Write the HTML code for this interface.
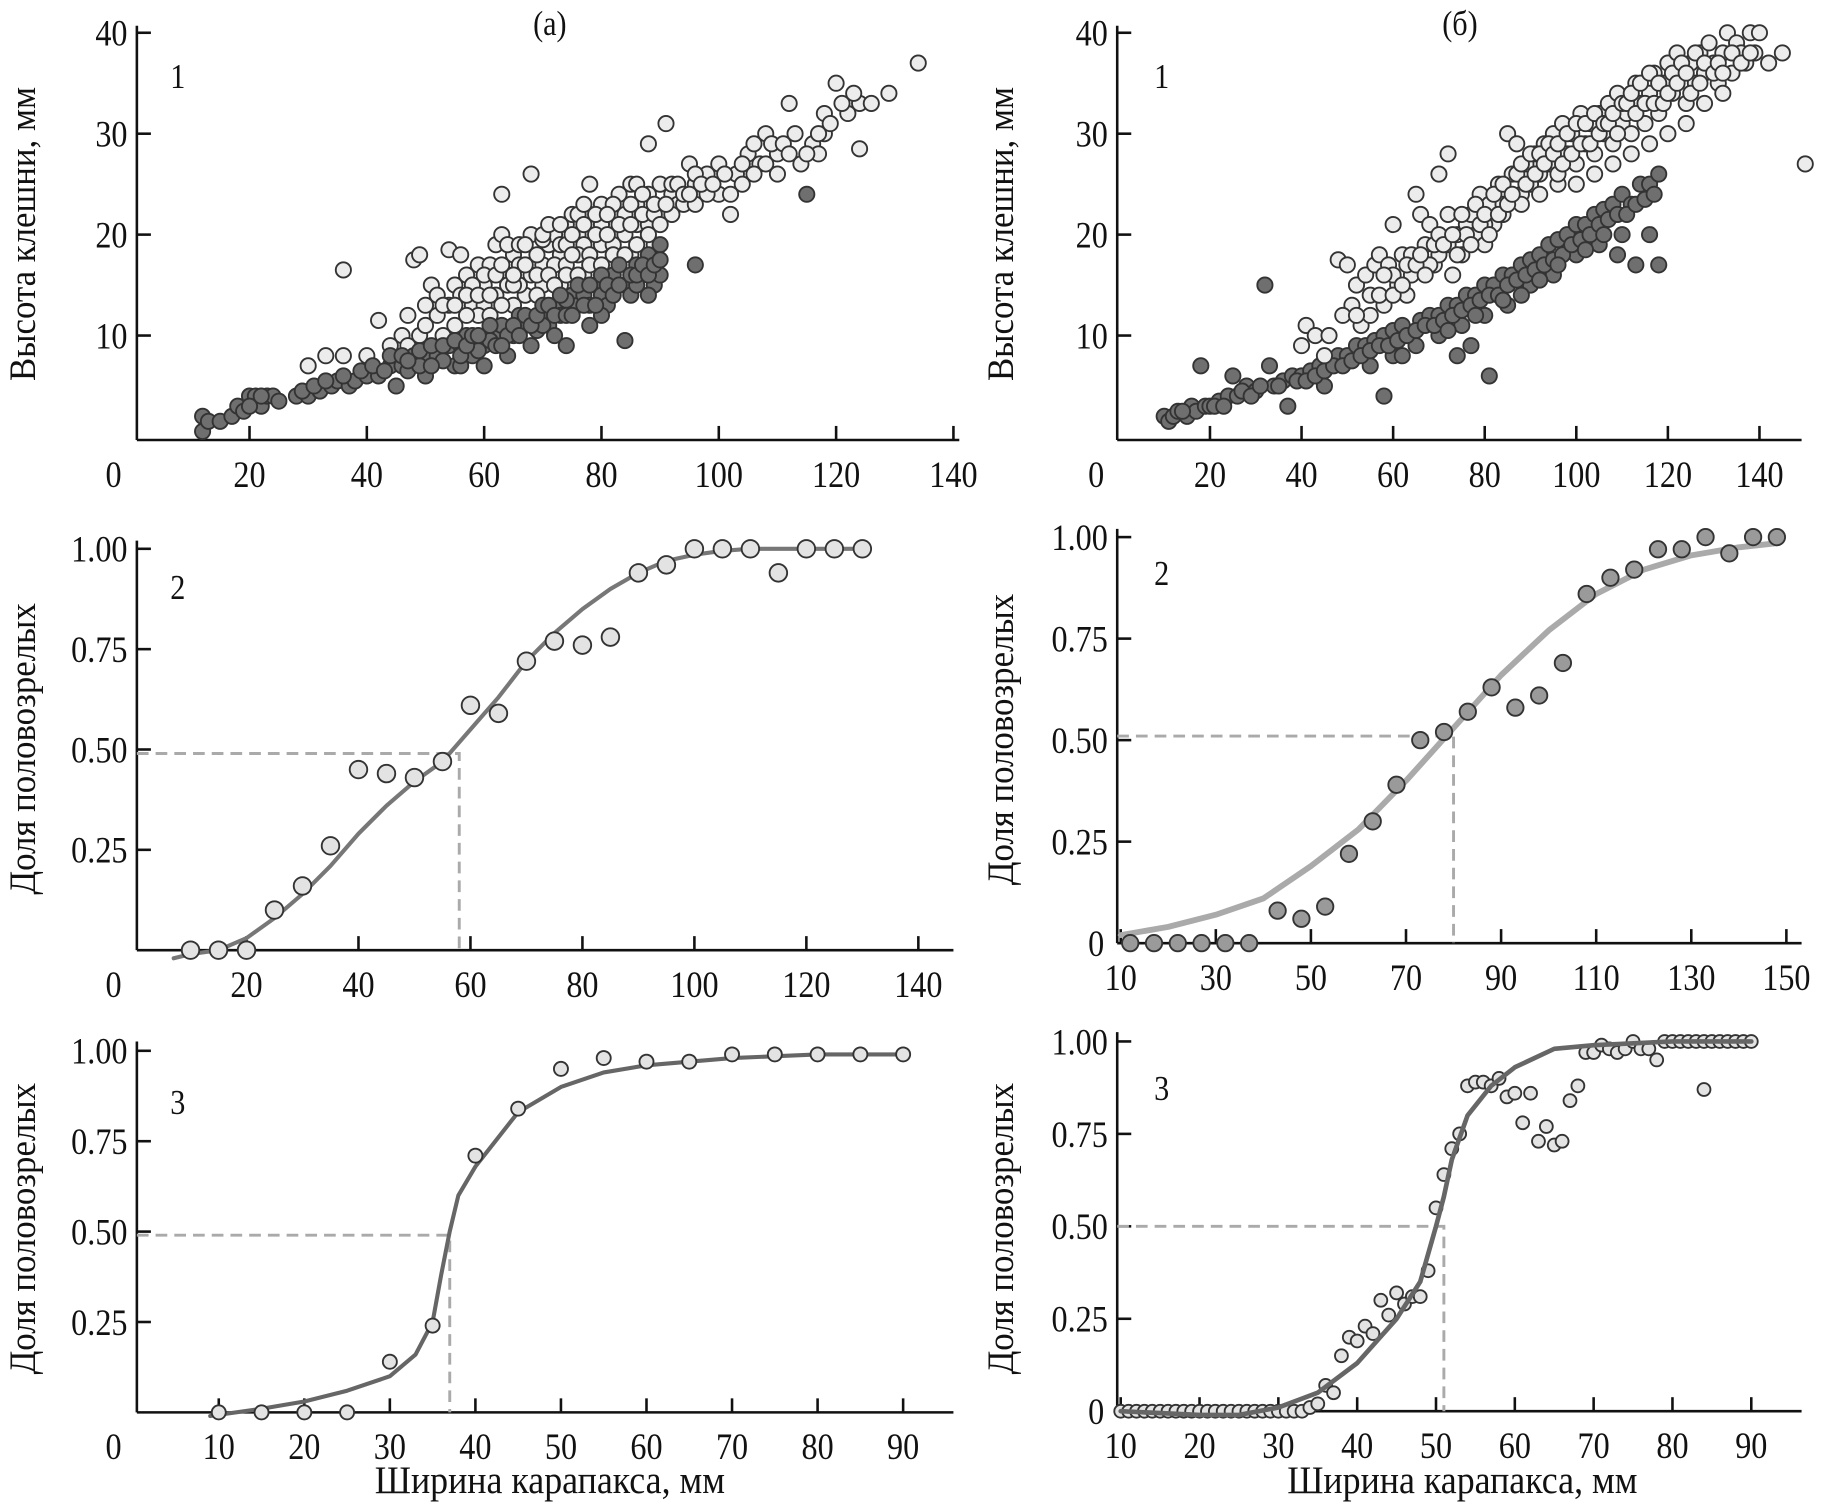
<!DOCTYPE html>
<html><head><meta charset="utf-8"><style>
html,body{margin:0;padding:0;background:#fff}
svg{display:block}
text{font-family:"Liberation Serif",serif;fill:#111}
</style></head><body>
<svg id="fig" width="1832" height="1506" viewBox="0 0 1566 1287" preserveAspectRatio="none" xmlns="http://www.w3.org/2000/svg"></svg>
<script>
// ---- data: panel a1 (scatter) ----
const a1Light=[30,7,33,8,36,8,36,16.5,40,8,42,11.5,44,9,46,10,47,12,48,17.5,49,18,50,13,51,15,52,14,54,18.5,55,15,56,18,57,16,58,13,59,17,60,15,61,17,62,19,63,24,63,20,64,16,65,18,66,17,67,14,68,20,68,26,70,17,71,19,72,20,73,18,74,21,75,22,76,20,77,19,78,25,78,22,80,21,80,23,82,20,83,24,84,22,85,25,86,23,87,21,88,29,88,24,90,25,91,31,92,24,93,23,95,27,96,25,98,26,100,27,100,24,102,22,103,26,105,28,106,29,107,27,108,30,110,28,110,26,112,33,113,30,114,27,116,29,117,28,118,32,118,30,120,35,122,32,124,28.5,124,33,126,33,129,34,134,37,52,12,54,13,56,14,58,15,60,13,62,14,64,15,66,15,68,16,70,15,72,17,74,17,76,18,78,18,80,19,82,19,84,20,86,21,88,21,90,22,92,22,94,23,96,23,98,24,55,11,59,12,61,12,65,13,69,14,73,15,77,16,81,17,85,18,89,19,64,19,70,19.5,76,22,82,23,86,25,104,25,108,27,
 47,9,49,10,50,11,53,10,53,13,55,13,57,12,57,14,59,14,60,16,61,14,62,16,63,13,63,17,65,15,65,16,66,19,67,17,67,19,69,16,69,18,70,20,71,16,71,21,72,15,73,19,73,21,74,16,74,19,75,18,75,20,76,16,77,21,77,23,78,17,79,20,79,22,80,17,81,20,81,22,82,18,83,21,84,18,85,21,85,23,86,19,87,22,87,24,88,20,89,22,89,23,90,21,91,23,92,25,93,25,94,24,95,24,96,26,97,25,99,25,101,26,102,24,104,27,106,26,109,29,111,29,112,28,115,28,117,30,119,31,121,33,123,34];
const a1Dark=[12,2,12,0.5,13,1.5,15,1.5,17,2,18,3,19,2.5,20,4,21,4,22,3,23,4,24,4,28,4,30,4,32,4.5,34,5,35,5.5,37,5,38,5.5,40,6,42,6,44,7,45,5,46,7,48,8,50,8,50,6,52,8,54,9,55,7,56,9,57,10,58,8,60,9,60,7,62,10,63,11,64,8,65,10,66,12,67,11,68,9,70,12,71,11,72,13,73,12,74,9,75,14,76,13,77,14,78,11,79,15,80,14,81,13,82,16,83,17,84,15,84,9.5,85,14,86,17,87,16,88,18,89,15,90,19,96,17,115,24,53,7.5,59,8.5,61,9.5,69,10.5,72,10,78,13,80,12,86,15,88,14,90,16,47,6.5,49,7,56,7,64,10,70,11,74,13.5,
 20,3,22,4,25,3.5,29,4.5,31,5,33,5.5,36,6,39,6.5,41,7,43,6.5,44,8,46,8,47,7.5,49,8.5,51,7,51,9,53,9,55,9.5,56,8,57,9,58,10,59,10,61,11,62,9,63,9,65,11,66,10,67,12,68,11,69,12,70,13,71,13,72,12,73,14,74,12,75,12,76,15,77,13,78,15,79,13,80,16,81,15,82,14,83,15,85,16,86,16,87,17,88,16,89,17,90,17.5];
// ---- data: panel б1 (scatter) ----
const b1Light=[40,9,41,11,43,10,45,8,48,17.5,50,17,51,13,52,15,53,11,54,16,55,12,56,17,57,18,58,13,59,17,60,21,61,15,62,18,63,14,64,16,65,24,66,22,67,19,68,21,69,17,70,26,70,18,72,22,72,28,73,16,74,20,75,18,76,21,77,22,78,20,79,24,80,19,81,23,82,21,83,25,84,22,85,30,86,26,87,29,88,24,89,27,90,25,91,28,92,26,93,29,94,27,95,30,96,25,97,31,98,28,99,30,100,27,101,32,102,29,103,31,104,28,105,32,106,30,107,33,108,29,109,34,110,31,111,32,112,30,113,35,114,33,115,31,116,34,117,36,118,32,119,35,120,37,121,34,122,38,123,36,124,33,125,37,126,35,127,38,128,36,129,39,130,37,131,35,132,38,133,40,134,36,135,39,136,38,137,37,138,40,139,38,140,40,142,37,145,38,150,27,60,16,64,18,68,17,72,19,76,20,80,21,84,23,88,23,92,24,96,26,100,25,104,26,108,27,112,28,116,29,120,30,124,31,128,33,132,34,
 46,10,49,12,52,12,55,14,57,14,58,16,60,14,62,15,63,17,65,17,66,18,67,16,69,19,70,20,71,19,73,20,74,18,75,22,77,19,78,23,79,21,80,22,81,20,82,24,83,22,84,25,85,23,86,24,87,26,88,27,89,25,90,28,91,26,92,28,93,27,94,29,95,28,96,29,97,27,98,30,99,28,100,31,101,29,102,31,103,29,104,32,105,30,106,31,107,31,108,32,109,30,110,33,111,33,112,34,113,32,114,35,115,33,116,36,117,33,118,35,119,33,120,34,121,36,122,35,123,37,124,36,125,34,126,38,127,35,128,37,130,36,131,37,132,36,134,38,136,37,138,38];
const b1Dark=[10,2,11,1.5,12,2,13,2.5,15,2,16,3,17,2.5,18,7,19,3,20,3,22,3.5,24,4,25,6,26,4,28,5,30,4.5,32,15,33,7,34,5,36,5.5,37,3,38,6,40,6,42,6.5,44,7,46,7.5,48,8,50,8,52,9,54,9,56,9.5,58,4,58,10,60,10.5,62,11,64,10,66,11.5,68,12,70,12,72,13,74,8,74,13,76,14,77,9,78,14,80,15,81,6,82,15,84,16,86,16,88,17,90,17.5,92,18,94,19,96,19.5,98,20,100,21,102,21,104,22,106,22.5,108,23,109,18,110,24,112,23,113,17,114,25,116,25,116,20,118,17,118,26,60,8,65,9,70,10,75,11,80,12,85,13,90,15,95,16,100,18,105,19,110,20,45,5,55,7,62,8,
 14,2.5,21,3,23,3,27,4.5,29,4,31,5,35,5,39,5.5,41,5.5,43,6,45,6.5,47,7,49,7,51,7.5,53,8,55,8.5,57,9,59,9,61,9.5,63,10,65,10.5,67,11,69,11,71,11.5,73,12,75,12.5,77,13,79,13.5,81,14,83,14,85,15,87,15.5,89,16,91,16.5,93,17,95,17.5,97,18,99,19,101,19.5,103,20,105,21,107,21.5,109,22,111,22,113,23,115,23.5,117,24,72,10.5,78,12,84,13.5,88,14,92,15.5,96,17,102,18.5,106,20];
// ---- data: panels a2, б2 (proportion) ----
const a2X=[10,15,20,25,30,35,40,45,50,55,60,65,70,75,80,85,90,95,100,105,110,115,120,125,130];
const a2Y=[0,0,0,0.1,0.16,0.26,0.45,0.44,0.43,0.47,0.61,0.59,0.72,0.77,0.76,0.78,0.94,0.96,1,1,1,0.94,1,1,1];
const a2CurveX=[7,10,15,20,25,30,35,40,45,50,55,60,65,70,75,80,85,90,95,100,105,110,120,130];
const a2CurveY=[-0.02,-0.01,0,0.03,0.08,0.14,0.21,0.29,0.36,0.42,0.47,0.55,0.63,0.72,0.79,0.85,0.9,0.94,0.97,0.985,0.995,1,1,1];
const a2Half=[58,0.49];
const b2X=[12,17,22,27,32,37,43,48,53,58,63,68,73,78,83,88,93,98,103,108,113,118,123,128,133,138,143,148];
const b2Y=[0,0,0,0,0,0,0.08,0.06,0.09,0.22,0.3,0.39,0.5,0.52,0.57,0.63,0.58,0.61,0.69,0.86,0.9,0.92,0.97,0.97,1,0.96,1,1];
const b2CurveX=[10,20,30,40,50,60,70,80,90,100,110,120,130,140,148];
const b2CurveY=[0.02,0.04,0.07,0.11,0.19,0.28,0.4,0.53,0.66,0.77,0.86,0.92,0.955,0.975,0.985];
const b2Half=[80,0.51];
// ---- data: panels a3, б3 ----
const a3X=[10,15,20,25,30,35,40,45,50,55,60,65,70,75,80,85,90];
const a3Y=[0,0,0,0,0.14,0.24,0.71,0.84,0.95,0.98,0.97,0.97,0.99,0.99,0.99,0.99,0.99];
const a3CurveX=[9,15,20,25,30,33,35,36,37,38,40,45,50,55,60,70,80,90];
const a3CurveY=[-0.01,0.01,0.03,0.06,0.1,0.16,0.25,0.38,0.5,0.6,0.68,0.83,0.9,0.94,0.96,0.98,0.99,0.99];
const a3Half=[37,0.49];
const b3X=[10,11,12,13,14,15,16,17,18,19,20,21,22,23,24,25,26,27,28,29,30,31,32,33,34,35,36,37,38,39,40,41,42,43,44,45,46,47,48,49,50,51,52,53,54,55,56,57,58,59,60,61,62,63,64,65,66,67,68,69,70,71,72,73,74,75,76,77,78,79,80,81,82,83,84,84,85,86,87,88,89,90];
const b3Y=[0,0,0,0,0,0,0,0,0,0,0,0,0,0,0,0,0,0,0,0,0,0,0,0,0.01,0.02,0.07,0.05,0.15,0.2,0.19,0.23,0.21,0.3,0.26,0.32,0.29,0.31,0.31,0.38,0.55,0.64,0.71,0.75,0.88,0.89,0.89,0.88,0.9,0.85,0.86,0.78,0.86,0.73,0.77,0.72,0.73,0.84,0.88,0.97,0.97,0.99,0.98,0.97,0.98,1,0.98,0.98,0.95,1,1,1,1,1,1,0.87,1,1,1,1,1,1];
const b3CurveX=[10,20,25,30,35,40,45,48,50,51,52,54,57,60,65,70,80,90];
const b3CurveY=[0,-0.01,-0.01,0.01,0.05,0.13,0.25,0.35,0.5,0.58,0.68,0.8,0.88,0.93,0.98,0.99,1,1];
const b3Half=[51,0.5];
// ---- tick labels ----
const a1XTicks=[20,40,60,80,100,120,140];
const b1XTicks=[20,40,60,80,100,120,140];
const scatYTicks=[10,20,30,40];
const propYTicks=[0.25,0.5,0.75,1];
const propYLabels=["0.25","0.50","0.75","1.00"];
const a2XTicks=[20,40,60,80,100,120,140];
const b2XTicks=[10,30,50,70,90,110,130,150];
const a3XTicks=[10,20,30,40,50,60,70,80,90];
const b3XTicks=[10,20,30,40,50,60,70,80,90];

const NS="http://www.w3.org/2000/svg";
const svg=document.getElementById('fig');
function mk(tag,attrs,parent,name){const e=document.createElementNS(NS,tag);for(const k in attrs)e.setAttribute(k,attrs[k]);


(parent||svg).appendChild(e);return e;}
function txt(s,x,y,size,anchor,parent,name,sx){const t=mk('text',{x:0,y:0,'font-size':size,'text-anchor':anchor||'middle',transform:'translate('+x+','+y+') scale('+(sx||0.86)+',1)'},parent,name);t.textContent=s;return t;}
function lin(x0,x1,y0,y1){return v=>y0+(v-x0)*(y1-y0)/(x1-x0);}

function panel(o){
  const g=mk('g',{},svg,o.name);
  const sx=lin(o.xd[0],o.xd[1],o.xp[0],o.xp[1]);
  const sy=lin(o.yd[0],o.yd[1],o.yp[0],o.yp[1]);
  const ax=mk('g',{stroke:'#111','stroke-width':2.2,fill:'none'},g,'axes');
  mk('line',{x1:o.yAxisX,y1:o.yTop,x2:o.yAxisX,y2:o.axisY},ax,'y-axis');
  mk('line',{x1:o.yAxisX,y1:o.axisY,x2:o.xEnd,y2:o.axisY},ax,'x-axis');
  o.yt.forEach((v,i)=>{const y=sy(v);mk('line',{x1:o.yAxisX,y1:y,x2:o.yAxisX+12,y2:y},ax,'y-tick');
    txt(o.ytl?o.ytl[i]:String(v),o.yAxisX-8,y+11,32,'end',g,'y-tick-label');});
  o.xt.forEach(v=>{const x=sx(v);mk('line',{x1:x,y1:o.axisY,x2:x,y2:o.axisY-12},ax,'x-tick');
    txt(String(v),x,o.axisY+40,32,'middle',g,'x-tick-label');});
  txt('0',o.zeroX||o.yAxisX-20,o.zeroY,32,'middle',g,'origin-label');
  txt(o.num,o.numX,o.numY,30,'middle',g,'panel-number');
  const yl=mk('text',{x:0,y:0,'font-size':32,'text-anchor':'middle',transform:'translate('+o.ylx+','+o.yly+') rotate(-90) scale(0.93,1)'},g,'y-axis-title');
  yl.textContent=o.ylabel;
  return {g,sx,sy};
}
function scatter(p,arr,fill,r,name){const gg=mk('g',{},p.g,name);
  for(let i=0;i<arr.length;i+=2){mk('circle',{cx:p.sx(arr[i]),cy:p.sy(arr[i+1]),r:r,fill:fill,stroke:'#333','stroke-width':1.6},gg,'point');}}
function dots(p,X,Y,fill,r,name){const gg=mk('g',{},p.g,name);
  X.forEach((x,i)=>{mk('circle',{cx:p.sx(x),cy:p.sy(Y[i]),r:r,fill:fill,stroke:'#333','stroke-width':1.6},gg,'point');});}
function curve(p,X,Y,color,w,name){const d=X.map((x,i)=>(i?'L':'M')+p.sx(x).toFixed(1)+','+p.sy(Y[i]).toFixed(1)).join(' ');
  mk('path',{d:d,fill:'none',stroke:color,'stroke-width':w,'stroke-linejoin':'round','stroke-linecap':'round'},p.g,name);}
function half(p,h,x0,axisY){const x=p.sx(h[0]),y=p.sy(h[1]);
  mk('path',{d:'M'+x0+','+y+' L'+x+','+y+' L'+x+','+axisY,fill:'none',stroke:'#aaa','stroke-width':2.5,'stroke-dasharray':'10,6'},p.g,'half-maturity-guide');}

// a1
let p=panel({name:'panel-a1',xd:[0,140],xp:[113,815],yd:[0,40],yp:[373,28],yAxisX:117,yTop:22,axisY:376,xEnd:820,
  yt:scatYTicks,xt:a1XTicks,zeroY:416,num:'1',numX:152,numY:75,ylabel:'Высота клешни, мм',ylx:30,yly:200});
scatter(p,a1Light,'#ececec',6.5,'immature-points');scatter(p,a1Dark,'#6f6f6f',6.5,'mature-points');
txt('(a)',470,30,30,'middle',p.g,'column-title-a');
// б1
p=panel({name:'panel-b1',xd:[0,140],xp:[956,1504],yd:[0,40],yp:[373,28],yAxisX:955,yTop:22,axisY:376,xEnd:1540,
  yt:scatYTicks,xt:b1XTicks,zeroY:416,zeroX:937,num:'1',numX:993,numY:75,ylabel:'Высота клешни, мм',ylx:866,yly:200});
scatter(p,b1Dark,'#6f6f6f',6.5,'mature-points');scatter(p,b1Light,'#ececec',6.5,'immature-points');
txt('(б)',1248,30,30,'middle',p.g,'column-title-b');
// a2
p=panel({name:'panel-a2',xd:[0,140],xp:[115,785],yd:[0,1],yp:[812,469],yAxisX:117,yTop:462,axisY:812,xEnd:815,
  yt:propYTicks,ytl:propYLabels,xt:a2XTicks,zeroY:852,num:'2',numX:152,numY:512,ylabel:'Доля половозрелых',ylx:30,yly:640});
half(p,a2Half,117,812);curve(p,a2CurveX,a2CurveY,'#777',3.5,'fit-curve');dots(p,a2X,a2Y,'#e3e3e3',7.5,'observed-points');
// б2
p=panel({name:'panel-b2',xd:[10,150],xp:[958,1527],yd:[0,1],yp:[806,459],yAxisX:955,yTop:452,axisY:806,xEnd:1540,
  yt:propYTicks,ytl:propYLabels,xt:b2XTicks,zeroY:817,zeroX:937,num:'2',numX:993,numY:500,ylabel:'Доля половозрелых',ylx:866,yly:632});
half(p,b2Half,955,806);curve(p,b2CurveX,b2CurveY,'#aaa',5,'fit-curve');dots(p,b2X,b2Y,'#9a9a9a',7,'observed-points');
// a3
p=panel({name:'panel-a3',xd:[10,90],xp:[187,772],yd:[0,1],yp:[1207,898],yAxisX:117,yTop:890,axisY:1207,xEnd:815,
  yt:propYTicks,ytl:propYLabels,xt:a3XTicks,zeroY:1247,num:'3',numX:152,numY:952,ylabel:'Доля половозрелых',ylx:30,yly:1050});
half(p,a3Half,117,1207);curve(p,a3CurveX,a3CurveY,'#666',3.5,'fit-curve');dots(p,a3X,a3Y,'#e3e3e3',6,'observed-points');
txt('Ширина карапакса, мм',470,1276,33,'middle',p.g,'x-axis-title',0.93);
// б3
p=panel({name:'panel-b3',xd:[10,90],xp:[958,1497],yd:[0,1],yp:[1206,890],yAxisX:955,yTop:882,axisY:1206,xEnd:1540,
  yt:propYTicks,ytl:propYLabels,xt:b3XTicks,zeroY:1217,zeroX:937,num:'3',numX:993,numY:940,ylabel:'Доля половозрелых',ylx:866,yly:1050});
half(p,b3Half,955,1206);dots(p,b3X,b3Y,'#e3e3e3',5.5,'observed-points');curve(p,b3CurveX,b3CurveY,'#666',4,'fit-curve');
txt('Ширина карапакса, мм',1250,1276,33,'middle',p.g,'x-axis-title',0.93);
</script>
</body></html>
